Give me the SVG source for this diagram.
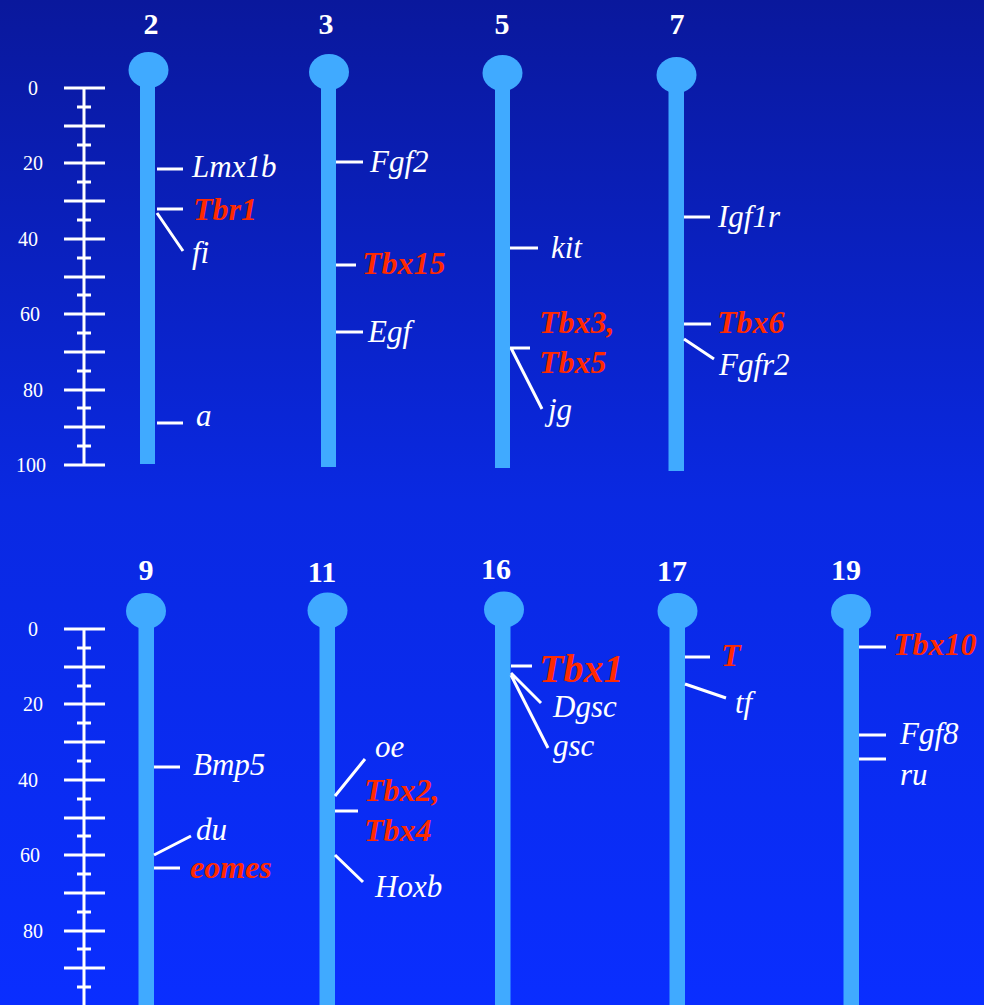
<svg xmlns="http://www.w3.org/2000/svg" width="984" height="1005" viewBox="0 0 984 1005">
<defs>
<linearGradient id="bg" x1="0" y1="0" x2="0" y2="1">
<stop offset="0" stop-color="#0a189c"/>
<stop offset="0.5" stop-color="#0a29e2"/>
<stop offset="1" stop-color="#0a2eff"/>
</linearGradient>
</defs>
<style>
.chr{fill:#40aaff}
.ln{stroke:#fff;stroke-width:3;fill:none}
.ttl{font-family:"Liberation Serif",serif;font-weight:bold;font-size:30px;fill:#fff;text-anchor:middle}
.sc{font-family:"Liberation Serif",serif;font-size:20px;fill:#fff;text-anchor:middle}
.g{font-family:"Liberation Serif",serif;font-style:italic;font-size:31px;fill:#fff}
.r{font-family:"Liberation Serif",serif;font-style:italic;font-weight:bold;font-size:32px;fill:#ff2a00}
</style>
<rect x="0" y="0" width="984" height="1005" fill="url(#bg)"/>

<g id="scale-top">
<path class="ln" d="M84,88V465M64,88H105M64,126H105M64,163H105M64,201H105M64,239H105M64,277H105M64,314H105M64,352H105M64,390H105M64,427H105M64,465H105M77,107H91M77,145H91M77,182H91M77,220H91M77,258H91M77,295H91M77,333H91M77,371H91M77,408H91M77,446H91"/>
<text class="sc" x="33" y="95">0</text>
<text class="sc" x="33" y="170">20</text>
<text class="sc" x="28" y="246">40</text>
<text class="sc" x="30" y="321">60</text>
<text class="sc" x="33" y="397">80</text>
<text class="sc" x="31" y="472">100</text>
</g>

<g id="scale-bottom">
<path class="ln" d="M84,629V1005M64,629H105M64,667H105M64,704H105M64,742H105M64,780H105M64,818H105M64,855H105M64,893H105M64,931H105M64,968H105M77,648H91M77,686H91M77,723H91M77,761H91M77,799H91M77,836H91M77,874H91M77,912H91M77,949H91M77,987H91"/>
<text class="sc" x="33" y="636">0</text>
<text class="sc" x="33" y="711">20</text>
<text class="sc" x="28" y="787">40</text>
<text class="sc" x="30" y="862">60</text>
<text class="sc" x="33" y="938">80</text>
</g>

<g id="chr2">
<text class="ttl" x="151" y="34">2</text>
<ellipse class="chr" cx="148.5" cy="70" rx="20" ry="18"/>
<rect class="chr" x="140" y="82" width="15" height="382"/>
<text class="g" x="192" y="177">Lmx1b</text>
<text class="r" x="193" y="220">Tbr1</text>
<text class="g" x="192" y="263">fi</text>
<text class="g" x="196" y="426">a</text>
</g>

<g id="chr3">
<text class="ttl" x="326" y="34">3</text>
<ellipse class="chr" cx="329" cy="72" rx="20" ry="18"/>
<rect class="chr" x="321" y="84" width="15" height="383"/>
<text class="g" x="370" y="172">Fgf2</text>
<text class="r" x="362" y="274">Tbx15</text>
<text class="g" x="368" y="342">Egf</text>
</g>

<g id="chr5">
<text class="ttl" x="502" y="34">5</text>
<ellipse class="chr" cx="502.5" cy="73" rx="20" ry="18"/>
<rect class="chr" x="495" y="85" width="15" height="383"/>
<text class="g" x="551" y="258">kit</text>
<text class="r" x="539" y="333">Tbx3,</text>
<text class="r" x="539" y="373">Tbx5</text>
<text class="g" x="548" y="420">jg</text>
</g>

<g id="chr7">
<text class="ttl" x="677" y="34">7</text>
<ellipse class="chr" cx="676.5" cy="75" rx="20" ry="18"/>
<rect class="chr" x="668.5" y="87" width="15.5" height="384"/>
<text class="g" x="718" y="227">Igf1r</text>
<text class="r" x="717" y="333">Tbx6</text>
<text class="g" x="719" y="375">Fgfr2</text>
</g>

<g id="chr9">
<text class="ttl" x="146" y="580">9</text>
<ellipse class="chr" cx="146" cy="611" rx="20" ry="18"/>
<rect class="chr" x="138.5" y="623" width="15.5" height="382"/>
<text class="g" x="193" y="775">Bmp5</text>
<text class="g" x="196" y="840">du</text>
<text class="r" x="190" y="878">eomes</text>
</g>

<g id="chr11">
<text class="ttl" x="322" y="582">11</text>
<ellipse class="chr" cx="327.5" cy="610.5" rx="20" ry="18"/>
<rect class="chr" x="319.5" y="622" width="15.5" height="383"/>
<text class="g" x="375" y="757">oe</text>
<text class="r" x="364" y="801">Tbx2,</text>
<text class="r" x="364" y="841">Tbx4</text>
<text class="g" x="375" y="897">Hoxb</text>
</g>

<g id="chr16">
<text class="ttl" x="496" y="579">16</text>
<ellipse class="chr" cx="504" cy="609.5" rx="20" ry="18"/>
<rect class="chr" x="495" y="621" width="15.5" height="384"/>
<text class="r" x="539" y="682" style="font-size:40px">Tbx1</text>
<text class="g" x="553" y="717">Dgsc</text>
<text class="g" x="553" y="756">gsc</text>
</g>

<g id="chr17">
<text class="ttl" x="672" y="581">17</text>
<ellipse class="chr" cx="677.5" cy="611" rx="20" ry="18"/>
<rect class="chr" x="669.5" y="623" width="15.5" height="382"/>
<text class="r" x="721" y="666">T</text>
<text class="g" x="735" y="713">tf</text>
</g>

<g id="chr19">
<text class="ttl" x="846" y="580">19</text>
<ellipse class="chr" cx="851" cy="612" rx="20" ry="18"/>
<rect class="chr" x="843.5" y="624" width="15.5" height="381"/>
<text class="r" x="893" y="655">Tbx10</text>
<text class="g" x="900" y="744">Fgf8</text>
<text class="g" x="900" y="785">ru</text>
</g>

<g id="connectors">
<path class="ln" d="M157,169H183M157,209H183M157,213L183,251M157,423H183"/>
<path class="ln" d="M336,162H363M336,265H356M336,332H363"/>
<path class="ln" d="M510,248H538M510,348H530M511,348L542,409"/>
<path class="ln" d="M684,217H710M684,324H711M684,339L714,359"/>
<path class="ln" d="M154,767H180M154,855L191,836M154,868H180"/>
<path class="ln" d="M335,796L365,759M335,811H358M335,855L363,882"/>
<path class="ln" d="M511,666H532M511,673L541,703M511,675L548,748"/>
<path class="ln" d="M685,657H710M685,684L726,698"/>
<path class="ln" d="M859,647H886M859,735H886M859,759H886"/>
</g>
</svg>
